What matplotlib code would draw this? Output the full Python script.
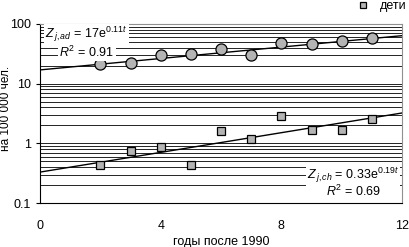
import numpy as np
import matplotlib
matplotlib.use("Agg")
import matplotlib.pyplot as plt
from matplotlib.ticker import LogLocator, NullFormatter, FixedLocator

plt.rcParams['font.family'] = ['Liberation Sans', 'DejaVu Sans']
plt.rcParams['mathtext.fontset'] = 'custom'
plt.rcParams['mathtext.rm'] = 'Liberation Sans'
plt.rcParams['mathtext.it'] = 'Liberation Sans:italic'

# years after 1990
years = [2, 3, 4, 5, 6, 7, 8, 9, 10, 11]
# incidence per 100 000, adults and children
adults = [21.5, 22.4, 30, 31, 38, 30, 48, 46, 52, 58]
children = [0.43, 0.74, 0.86, 0.43, 1.6, 1.17, 2.9, 1.65, 1.65, 2.6]

# exponential trend coefficients (a * exp(b * t))
fit_ad = (17, 0.11)
fit_ch = (0.33, 0.19)

fig = plt.figure(figsize=(4.09, 2.47), dpi=100)
ax = fig.add_axes([0.098, 0.178, 0.885, 0.725])

t = np.linspace(0, 12, 100)
ax.plot(t, fit_ad[0] * np.exp(fit_ad[1] * t), color='black', lw=1, zorder=3)
ax.plot(t, fit_ch[0] * np.exp(fit_ch[1] * t), color='black', lw=1, zorder=3)

ax.plot(years, adults, 'o', ms=8, mfc='#b4b4b4', mec='black', mew=0.9, zorder=4)
ax.plot(years, children, 's', ms=6, mfc='#b4b4b4', mec='black', mew=0.9,
        zorder=4, label='дети')

ax.set_yscale('log')
ax.set_ylim(0.1, 100)
ax.set_xlim(0, 12)
ax.set_xticks([0, 4, 8, 12])
ax.set_yticks([0.1, 1, 10, 100])
ax.set_yticklabels(['0.1', '1', '10', '100'])
ax.yaxis.set_minor_locator(LogLocator(base=10, subs=np.arange(2, 10)))
ax.yaxis.set_minor_formatter(NullFormatter())
ax.tick_params(axis='y', which='minor', length=0)
ax.tick_params(axis='y', which='major', length=3, direction='out', labelsize=9)
ax.tick_params(axis='x', length=0, labelsize=9, pad=12)

ax.grid(True, axis='y', which='both', color='black', lw=0.6)
ax.xaxis.set_minor_locator(FixedLocator([4, 8]))
ax.grid(True, axis='x', which='minor', color='black', lw=0.6)

for s in ['top', 'right']:
    ax.spines[s].set_color('#909090')
for s in ['left', 'bottom']:
    ax.spines[s].set_color('black')

ax.set_xlabel('годы после 1990', fontsize=9, labelpad=3)
ax.set_ylabel('на 100 000 чел.', fontsize=8.5)
ax.yaxis.set_label_coords(-0.077, 0.53)

box = dict(facecolor='white', edgecolor='none', pad=1)
ax.text(0.17, 58, r'$Z_{\,j,ad}$ = 17e$^{0.11t}$', fontsize=9, bbox=box, zorder=5)
ax.text(0.63, 28, r'$R^2$ = 0.91', fontsize=9, bbox=box, zorder=5)
ax.text(8.85, 0.25, r'$Z_{\,j,ch}$ = 0.33e$^{0.19t}$', fontsize=9, bbox=box, zorder=5)
ax.text(9.48, 0.13, r'$R^2$ = 0.69', fontsize=9, bbox=box, zorder=5)

fig.legend(loc='upper left', bbox_to_anchor=(0.83, 1.045), frameon=False,
           fontsize=9, handletextpad=0.3, markerscale=0.8)

fig.savefig('out.png', dpi=100)
